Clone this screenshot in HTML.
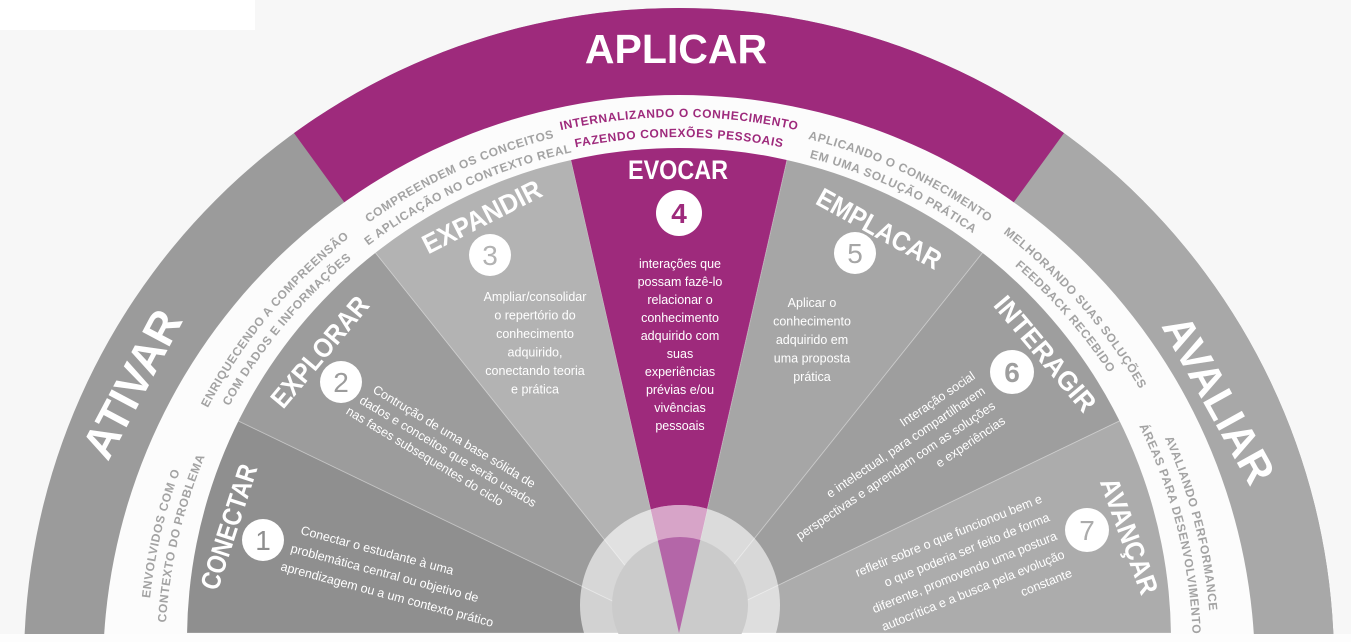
<!DOCTYPE html>
<html><head><meta charset="utf-8"><style>
html,body{margin:0;padding:0;background:#f7f7f7;overflow:hidden;width:1351px;height:642px;}
svg{display:block;}
.t{font-family:"Liberation Sans",sans-serif;font-weight:bold;fill:#fff;}
.d{font-family:"Liberation Sans",sans-serif;fill:#fff;font-size:12.5px;}
.b{font-family:"Liberation Sans",sans-serif;font-weight:bold;font-size:12px;letter-spacing:0.6px;fill:#a3a3a3;}
.p{fill:#9e2a7c;}
</style></head><body>
<svg width="1351" height="642" viewBox="0 0 1351 642" xmlns="http://www.w3.org/2000/svg" overflow="hidden">
<defs>
<clipPath id="sec"><circle cx="679" cy="640" r="492"/></clipPath>
<clipPath id="ell"><circle cx="679" cy="663" r="655"/></clipPath>
<clipPath id="hub"><circle cx="680" cy="605" r="100"/></clipPath>
<clipPath id="hubin"><circle cx="680" cy="605" r="68"/></clipPath>
<clipPath id="page"><rect x="0" y="0" width="1351" height="634"/></clipPath>
<path id="s532" d="M147,655 A532,532 0 0 1 1211,655"/>
<path id="s514" d="M165,655 A514,514 0 0 1 1193,655"/>
<path id="t538" d="M141,655 A538,538 0 0 1 1217,655"/>
<path id="t518" d="M161,655 A518,518 0 0 1 1197,655"/>
</defs>
<rect x="0" y="0" width="1351" height="642" fill="#f7f7f7"/>
<rect x="0" y="0" width="255" height="30" fill="#fff"/>
<g clip-path="url(#page)">
<circle cx="679" cy="663" r="655" fill="#9b9b9b"/>
<polygon points="679,663 1400,663 1400,-50 1197,-50" fill="#a8a8a8" clip-path="url(#ell)"/>
<polygon points="679,663 161,-50 1197,-50" fill="#9e2a7c" clip-path="url(#ell)"/>
<circle cx="679" cy="671" r="576" fill="#fcfcfc"/>
<g clip-path="url(#sec)" stroke="rgba(255,255,255,0.25)" stroke-width="1">
<polygon points="679,633 -121,633 -42,286" fill="#8f8f8f"/>
<polygon points="679,633 -42,286 180,8" fill="#9c9c9c"/>
<polygon points="679,633 180,8 501,-147" fill="#b3b3b3"/>
<polygon points="679,633 501,-147 857,-147" fill="#9e2a7c" stroke="none"/>
<polygon points="679,633 857,-147 1178,8" fill="#a6a6a6"/>
<polygon points="679,633 1178,8 1400,286" fill="#9e9e9e"/>
<polygon points="679,633 1400,286 1479,633" fill="#acacac"/>
</g>
<circle cx="680" cy="605" r="100" fill="rgba(255,255,255,0.6)"/>
<circle cx="680" cy="605" r="68" fill="#cbcbcb"/>
<polygon points="679,633 644,480 714,480" fill="#d7a4c8" clip-path="url(#hub)"/>
<polygon points="679,633 644,480 714,480" fill="#b466a8" clip-path="url(#hubin)"/>
</g>
<rect x="0" y="634" width="1351" height="8" fill="#fdfdfd"/>

<text class="t" x="676" y="63" font-size="41" text-anchor="middle">APLICAR</text>
<text class="t" font-size="45" text-anchor="middle" dominant-baseline="central" transform="translate(132,384) rotate(-62)">ATIVAR</text>
<text class="t" font-size="43" text-anchor="middle" dominant-baseline="central" transform="translate(1218,400) rotate(61)">AVALIAR</text>

<text class="b p" font-size="12.5"><textPath href="#t538" startOffset="845.1" text-anchor="middle">INTERNALIZANDO O CONHECIMENTO</textPath></text>
<text class="b p" font-size="12.5"><textPath href="#t518" startOffset="813.7" text-anchor="middle">FAZENDO CONEXÕES PESSOAIS</textPath></text>

<text class="b"><textPath href="#s532" startOffset="122.6" text-anchor="middle">ENVOLVIDOS COM O</textPath></text>
<text class="b"><textPath href="#s514" startOffset="118.4" text-anchor="middle">CONTEXTO DO PROBLEMA</textPath></text>
<text class="b"><textPath href="#s532" startOffset="368.6" text-anchor="middle">ENRIQUECENDO A COMPREENSÃO</textPath></text>
<text class="b"><textPath href="#s514" startOffset="356.2" text-anchor="middle">COM DADOS E INFORMAÇÕES</textPath></text>
<text class="b"><textPath href="#s532" startOffset="607.2" text-anchor="middle">COMPREENDEM OS CONCEITOS</textPath></text>
<text class="b"><textPath href="#s514" startOffset="586.7" text-anchor="middle">E APLICAÇÃO NO CONTEXTO REAL</textPath></text>
<text class="b"><textPath href="#s532" startOffset="1066" text-anchor="middle">APLICANDO O CONHECIMENTO</textPath></text>
<text class="b"><textPath href="#s514" startOffset="1030" text-anchor="middle">EM UMA SOLUÇÃO PRÁTICA</textPath></text>
<text class="b"><textPath href="#s532" startOffset="1288.7" text-anchor="middle">MELHORANDO SUAS SOLUÇÕES</textPath></text>
<text class="b"><textPath href="#s514" startOffset="1245" text-anchor="middle">FEEDBACK RECEBIDO</textPath></text>
<text class="b"><textPath href="#s532" startOffset="1537.6" text-anchor="middle">AVALIANDO PERFORMANCE</textPath></text>
<text class="b"><textPath href="#s514" startOffset="1485.6" text-anchor="middle">ÁREAS PARA DESENVOLVIMENTO</textPath></text>

<text class="t" font-size="27" text-anchor="middle" dominant-baseline="central" textLength="130" lengthAdjust="spacingAndGlyphs" transform="translate(229,527) rotate(-72)">CONECTAR</text>
<text class="t" font-size="27" text-anchor="middle" dominant-baseline="central" textLength="136" lengthAdjust="spacingAndGlyphs" transform="translate(320,352) rotate(-50)">EXPLORAR</text>
<text class="t" font-size="27" text-anchor="middle" dominant-baseline="central" textLength="130" lengthAdjust="spacingAndGlyphs" transform="translate(482,217) rotate(-27)">EXPANDIR</text>
<text class="t" font-size="27" text-anchor="middle" dominant-baseline="central" textLength="100" lengthAdjust="spacingAndGlyphs" transform="translate(678,170)">EVOCAR</text>
<text class="t" font-size="27" text-anchor="middle" dominant-baseline="central" textLength="138" lengthAdjust="spacingAndGlyphs" transform="translate(879,229) rotate(29)">EMPLACAR</text>
<text class="t" font-size="27" text-anchor="middle" dominant-baseline="central" textLength="142" lengthAdjust="spacingAndGlyphs" transform="translate(1045,354) rotate(50)">INTERAGIR</text>
<text class="t" font-size="27" text-anchor="middle" dominant-baseline="central" textLength="122" lengthAdjust="spacingAndGlyphs" transform="translate(1129,536) rotate(70)">AVANÇAR</text>

<g font-family="Liberation Sans,sans-serif" font-size="28" text-anchor="middle">
<circle cx="263" cy="540" r="21" fill="#fff"/><text x="263" y="550" fill="#8f8f8f">1</text>
<circle cx="341" cy="382" r="21" fill="#fff"/><text x="341" y="392" fill="#9c9c9c">2</text>
<circle cx="490" cy="255" r="21" fill="#fff"/><text x="490" y="265" fill="#b3b3b3">3</text>
<circle cx="679" cy="213" r="23" fill="#fff"/><text x="679" y="223" fill="#9e2a7c" font-weight="bold">4</text>
<circle cx="855" cy="253" r="21" fill="#fff"/><text x="855" y="263" fill="#a6a6a6">5</text>
<circle cx="1012" cy="372" r="22" fill="#fff"/><text x="1012" y="382" fill="#9e9e9e" font-weight="bold">6</text>
<circle cx="1087" cy="530" r="22" fill="#fff"/><text x="1087" y="540" fill="#acacac">7</text>
</g>

<g class="d" transform="translate(300,534) rotate(15)">
<text x="0" y="0">Conectar o estudante à uma</text>
<text x="-5" y="20">problemática central ou objetivo de</text>
<text x="-10" y="40">aprendizagem ou a um contexto prático</text>
</g>
<g class="d" transform="translate(372,392) rotate(31)">
<text x="0" y="0">Contrução de uma base sólida de</text>
<text x="-6" y="16">dados e conceitos que serão usados</text>
<text x="-12" y="32">nas fases subsequentes do ciclo</text>
</g>
<g class="d" text-anchor="middle">
<text x="535" y="301">Ampliar/consolidar</text>
<text x="535" y="319.5">o repertório do</text>
<text x="535" y="338">conhecimento</text>
<text x="535" y="356.5">adquirido,</text>
<text x="535" y="375">conectando teoria</text>
<text x="535" y="393.5">e prática</text>
</g>
<g class="d" text-anchor="middle">
<text x="680" y="268">interações que</text>
<text x="680" y="286">possam fazê-lo</text>
<text x="680" y="304">relacionar o</text>
<text x="680" y="322">conhecimento</text>
<text x="680" y="340">adquirido com</text>
<text x="680" y="358">suas</text>
<text x="680" y="376">experiências</text>
<text x="680" y="394">prévias e/ou</text>
<text x="680" y="412">vivências</text>
<text x="680" y="430">pessoais</text>
</g>
<g class="d" text-anchor="middle">
<text x="812" y="307">Aplicar o</text>
<text x="812" y="325.5">conhecimento</text>
<text x="812" y="344">adquirido em</text>
<text x="812" y="362.5">uma proposta</text>
<text x="812" y="381">prática</text>
</g>
<g class="d" text-anchor="end" transform="translate(976,378) rotate(-34)">
<text x="0" y="0">Interação social</text>
<text x="0" y="18">e intelectual, para compartilharem</text>
<text x="0" y="36">perspectivas e aprendam com as soluções</text>
<text x="0" y="54">e experiências</text>
</g>
<g class="d" text-anchor="end" transform="translate(1043,502) rotate(-22)">
<text x="0" y="0">refletir sobre o que funcionou bem e</text>
<text x="0" y="20">o que poderia ser feito de forma</text>
<text x="0" y="40">diferente, promovendo uma postura</text>
<text x="0" y="60">autocrítica e a busca pela evolução</text>
<text x="0" y="80">constante</text>
</g>
</svg>
</body></html>
